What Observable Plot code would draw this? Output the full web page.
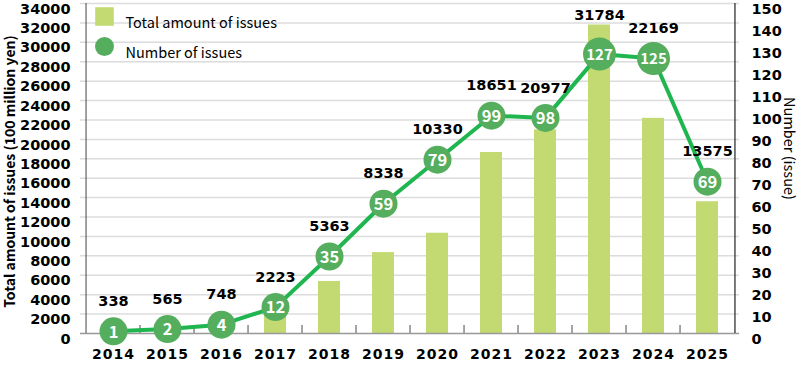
<!DOCTYPE html>
<html>
<head>
<meta charset="utf-8">
<script src="https://cdn.jsdelivr.net/npm/d3@7"></script>
<script src="https://cdn.jsdelivr.net/npm/@observablehq/plot@0.6"></script>
<style>
  html, body { margin: 0; padding: 0; background: #fff; }
  #chart svg { display: block; }
  #chart g[aria-label="x-axis tick label"] text { letter-spacing: 1px; }
</style>
</head>
<body>
<div id="chart"></div>
<script>
const years = ["2014","2015","2016","2017","2018","2019","2020","2021","2022","2023","2024","2025"];
const amounts = [338, 565, 748, 2223, 5363, 8338, 10330, 18651, 20977, 31784, 22169, 13575];
const counts = [1, 2, 4, 12, 35, 59, 79, 99, 98, 127, 125, 69];
const leftTicks = d3.range(0, 34001, 2000);
const rightTicks = d3.range(0, 151, 10);
const legendLabels = ["Total amount of issues", "Number of issues"];
const leftTitle = "Total amount of issues (100 million yen)";
const rightTitle = "Number (issue)";

const YMAX = 34000, RMAX = 150;
const k = YMAX / RMAX;
const W = 800, H = 368, MT = 3, MB = 35, ML = 80, MR = 61;
const unitsPerPx = YMAX / (H - MT - MB);
const halfStep = (W - ML - MR) / years.length / 2;

const data = years.map((y, i) => {
  const cs = counts[i] * k;
  return {
    year: y, amount: amounts[i], count: counts[i], cs,
    ly: Math.max(cs + 30 * unitsPerPx, amounts[i] + 10 * unitsPerPx)
  };
});

const font = "'Noto Sans CJK JP', 'Noto Sans', sans-serif";
const numFont = "'DejaVu Sans', sans-serif";
const barColor = "#c3da72", lineColor = "#1fb54f", dotColor = "#55ae5e";

const chart = Plot.plot({
  width: W, height: H,
  marginLeft: ML, marginRight: MR, marginTop: MT, marginBottom: MB,
  style: { fontFamily: font, background: "#fff" },
  x: { domain: years, paddingInner: 0.6, paddingOuter: 0.3, axis: null },
  y: { domain: [0, YMAX], axis: null },
  r: { type: "identity" },
  marks: [
    Plot.ruleY(leftTicks.slice(1), { stroke: "#dcdcdc", strokeWidth: 1.5 }),
    Plot.barY(data, { x: "year", y: "amount", fill: barColor }),
    Plot.ruleY([0], { stroke: "#999", strokeWidth: 1.5 }),
    Plot.ruleX(years.slice(1), { x: d => d, y1: 0, y2: 8 * unitsPerPx, dx: -halfStep, stroke: "#888", strokeWidth: 1.5 }),
    Plot.ruleX([years[0]], { x: d => d, y1: 0, y2: YMAX, dx: -halfStep, stroke: "#444", strokeWidth: 1 }),
    Plot.ruleX([years[years.length - 1]], { x: d => d, y1: 0, y2: YMAX, dx: halfStep, stroke: "#222", strokeWidth: 1.2 }),
    Plot.line(data, { x: "year", y: "cs", stroke: lineColor, strokeWidth: 4 }),
    Plot.dot(data, { x: "year", y: "cs", r: d => d.count >= 100 ? 16.5 : 14, fill: dotColor, stroke: "none" }),
    Plot.text(data, { x: "year", y: "cs", text: d => String(d.count), fill: "#fff", fontSize: d => d.count >= 100 ? 15 : 16.5, fontWeight: 700, dy: 1 }),
    Plot.text(data, { x: "year", y: "ly", text: d => String(d.amount), fill: "#000", fontSize: 14.5, fontWeight: 700, fontFamily: numFont }),
    Plot.axisX({ tickSize: 0, tickPadding: 16, fontSize: 14, fontWeight: 600, fontFamily: numFont, label: null, stroke: "none" }),
    Plot.axisY({ anchor: "left", ticks: leftTicks, tickSize: 0, tickPadding: 10, dy: 5.5, fontSize: 14.5, fontWeight: 600, fontFamily: numFont, label: null, tickFormat: d => String(d) }),
    Plot.axisY({ anchor: "right", ticks: rightTicks.map(v => v * k), tickSize: 0, tickPadding: 12, dy: 5.5, fontSize: 14.5, fontWeight: 600, fontFamily: numFont, label: null, tickFormat: d => String(Math.round(d / k)) }),
    Plot.text([leftTitle], { frameAnchor: "left", textAnchor: "middle", dx: -70, dy: 3, rotate: -90, text: d => d, fontSize: 14, fontWeight: 700, fill: "#000" }),
    Plot.text([rightTitle], { frameAnchor: "right", textAnchor: "middle", dx: 49, dy: -20, rotate: 90, text: d => d, fontSize: 14.5, fontWeight: 400, fill: "#000" }),
    Plot.dot([0], { frameAnchor: "top-left", dx: 24, dy: 13, symbol: "square", r: 10.5, fill: barColor }),
    Plot.dot([0], { frameAnchor: "top-left", dx: 24, dy: 43, r: 9.5, fill: dotColor }),
    Plot.text([legendLabels[0]], { frameAnchor: "top-left", dx: 45, dy: 14, textAnchor: "start", text: d => d, fontSize: 14.5, fill: "#000" }),
    Plot.text([legendLabels[1]], { frameAnchor: "top-left", dx: 45, dy: 44, textAnchor: "start", text: d => d, fontSize: 14.5, fill: "#000" })
  ]
});

document.getElementById("chart").appendChild(chart);
</script>
</body>
</html>
